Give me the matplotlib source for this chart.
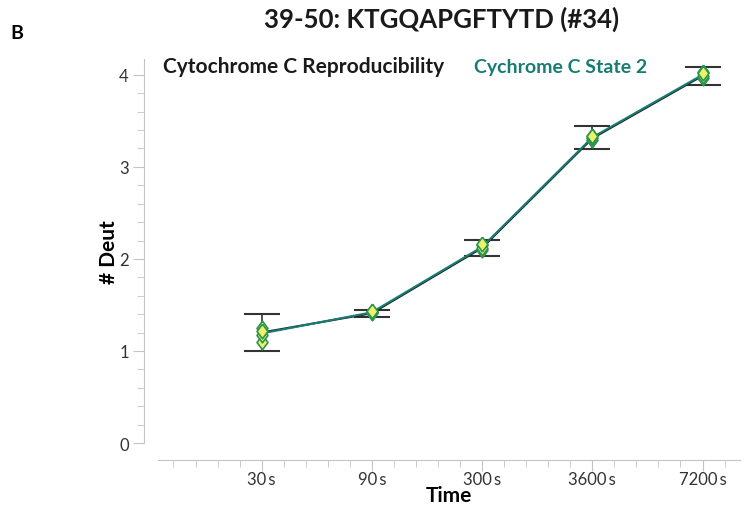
import matplotlib
matplotlib.use('Agg')
import matplotlib.pyplot as plt
from matplotlib.ticker import MultipleLocator

plt.rcParams['font.family'] = ['Lato', 'DejaVu Sans']

# data
times = ['30\u2009s', '90\u2009s', '300\u2009s', '3600\u2009s', '7200\u2009s']
repro_mean = [1.20, 1.41, 2.12, 3.31, 3.99]
state2_mean = [1.19, 1.42, 2.13, 3.32, 4.00]
err_low = [1.00, 1.37, 2.03, 3.19, 3.89]
err_high = [1.40, 1.45, 2.21, 3.44, 4.09]
# replicate points (diamonds)
repro_reps = [[1.10, 1.25], [1.41, 1.42], [2.10, 2.15], [3.29, 3.34], [3.97, 4.03]]
state2_reps = [[1.17, 1.22], [1.42, 1.43], [2.12, 2.16], [3.31, 3.33], [3.99, 4.02]]

teal = '#177d74'
grey = '#c4c4c4'
diamond = [(0, 1), (0.75, 0), (0, -1), (-0.75, 0), (0, 1)]

fig = plt.figure(figsize=(7.44, 5.10), dpi=100)
ax = fig.add_axes([0.2124, 0.1294, 0.7822, 0.7526])

x = list(range(len(times)))

# error bars (around the combined mean)
for i in x:
    m = (repro_mean[i] + state2_mean[i]) / 2
    ax.errorbar(i, m, yerr=[[m - err_low[i]], [err_high[i] - m]], fmt='none',
                ecolor='#333333', elinewidth=1.2, capsize=13, capthick=1.5, zorder=2)

ax.plot(x, repro_mean, color='#1a1a1a', lw=1.5, zorder=3)
ax.plot(x, state2_mean, color=teal, lw=1.5, zorder=3)

for i in x:
    for v in repro_reps[i] + state2_reps[i]:
        ax.plot(i, v, marker=diamond, ms=10.5, mfc='#eef26a', mec='#2a9450', mew=1.2, zorder=4)

ax.set_xlim(-0.94, 4.34)
ax.set_ylim(0, 4.17)

for s in ['top', 'right']:
    ax.spines[s].set_visible(False)
ax.spines['left'].set_position(('outward', 10))
ax.spines['bottom'].set_position(('outward', 12))
ax.spines['left'].set_color(grey)
ax.spines['bottom'].set_color(grey)

ax.set_xticks(x)
ax.set_xticklabels(times)
ax.xaxis.set_minor_locator(MultipleLocator(0.2))
ax.yaxis.set_major_locator(MultipleLocator(1))
ax.yaxis.set_minor_locator(MultipleLocator(0.2))
ax.tick_params(axis='both', which='major', color=grey, length=8, labelsize=12,
               labelcolor='#333333', pad=3)
ax.tick_params(axis='both', which='minor', color=grey, length=5)
ax.tick_params(axis='x', which='major', pad=0)

ax.set_xlabel('Time', fontsize=15, fontweight='bold', labelpad=-1)
ax.set_ylabel('# Deut', fontsize=15, fontweight='bold', labelpad=0)

fig.text(0.594, 0.962, '39-50: KTGQAPGFTYTD (#34)', ha='center', va='center',
         fontsize=18.5, fontweight='bold', color='#1a1a1a')
fig.text(0.014, 0.935, 'B', ha='left', va='center', fontsize=14, fontweight='bold')
fig.text(0.219, 0.868, 'Cytochrome C Reproducibility', ha='left', va='center',
         fontsize=15, fontweight='bold', color='#1a1a1a')
fig.text(0.637, 0.868, 'Cychrome C State 2', ha='left', va='center',
         fontsize=14, fontweight='bold', color=teal)

fig.savefig('out.png', dpi=100)
